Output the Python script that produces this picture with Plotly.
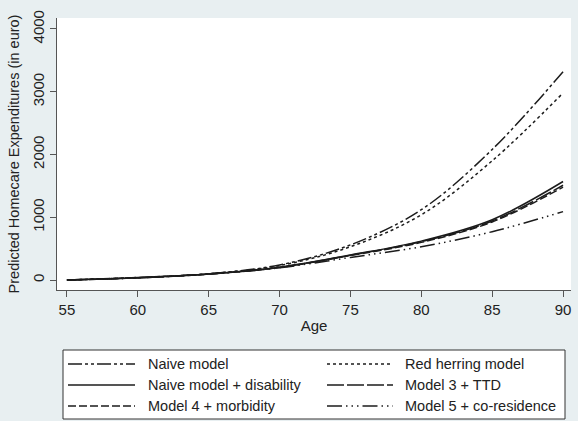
import plotly.graph_objects as go

ages = [55, 60, 65, 70, 75, 80, 85, 90]
naive = [0, 40, 100, 240, 560, 1120, 2080, 3320]
red_herring = [0, 40, 100, 230, 530, 1040, 1900, 2980]
naive_disab = [0, 35, 95, 205, 400, 620, 960, 1570]
model3_ttd = [0, 35, 95, 200, 395, 610, 940, 1510]
model4_morb = [0, 35, 95, 200, 390, 600, 925, 1480]
model5_cores = [0, 35, 95, 195, 360, 530, 770, 1090]

x_ticks = [55, 60, 65, 70, 75, 80, 85, 90]
y_ticks = [0, 1000, 2000, 3000, 4000]

series = [
    ("Naive model", naive, "14px,3px,3px,3px,3px,3px"),
    ("Red herring model", red_herring, "3px,3px"),
    ("Naive model + disability", naive_disab, "solid"),
    ("Model 3 + TTD", model3_ttd, "17px,3px"),
    ("Model 4 + morbidity", model4_morb, "8px,3px"),
    ("Model 5 + co-residence", model5_cores, "15px,4px,1.5px,4px,1.5px,4px,1.5px,4px"),
]

LINE_COLOR = "#1c1c1c"
FONT = "Liberation Sans, Arial, sans-serif"
TXT = "#222"

# plot area in pixels (for placing the hand-built legend box)
W, H = 578, 421
ML, MR, MT, MB = 57, 7, 18, 131
PW, PH = W - ML - MR, H - MT - MB


def px_x(p):
    return (p - ML) / PW


def px_y(p):
    return (H - MB - p) / PH


fig = go.Figure()
for name, vals, dash in series:
    fig.add_trace(go.Scatter(
        x=ages, y=vals, name=name, mode="lines",
        line=dict(color=LINE_COLOR, width=1.5, dash=dash, shape="spline"),
    ))

# legend (Stata-style boxed, two columns)
shapes = [dict(type="rect", xref="paper", yref="paper",
               x0=px_x(63), x1=px_x(565), y0=px_y(419), y1=px_y(350),
               line=dict(color="#333", width=1), fillcolor="white", layer="above")]
annotations = []
col_sample = [(68, 135, 146), (327, 393, 403)]
row_y = [364, 385, 406]
for i, (name, _, dash) in enumerate(series):
    r, c = divmod(i, 2)
    sx0, sx1, tx = col_sample[c]
    yy = px_y(row_y[r])
    shapes.append(dict(type="line", xref="paper", yref="paper",
                       x0=px_x(sx0), x1=px_x(sx1), y0=yy, y1=yy,
                       line=dict(color=LINE_COLOR, width=1.5, dash=dash), layer="above"))
    annotations.append(dict(xref="paper", yref="paper", x=px_x(tx), y=yy,
                            text=name, showarrow=False, xanchor="left", yanchor="middle",
                            font=dict(family=FONT, size=14.5, color=TXT)))

fig.update_layout(
    width=W, height=H,
    margin=dict(l=ML, r=MR, t=MT, b=MB, autoexpand=False),
    paper_bgcolor="#e8eff1",
    plot_bgcolor="white",
    font=dict(family=FONT, size=15, color=TXT),
    showlegend=False,
    shapes=shapes,
    annotations=annotations,
    xaxis=dict(
        range=[54.3, 90.56], tickmode="array", tickvals=x_ticks,
        showgrid=False, zeroline=False, showline=True, linecolor="#555", linewidth=1,
        ticks="outside", ticklen=6, tickcolor="#555",
        tickfont=dict(family=FONT, size=15, color=TXT),
        title=dict(text="Age", standoff=3, font=dict(family=FONT, size=15, color=TXT)),
    ),
    yaxis=dict(
        range=[-159, 4175], tickmode="array", tickvals=y_ticks,
        showgrid=False, zeroline=False, showline=True, linecolor="#555", linewidth=1,
        ticks="outside", ticklen=6, tickcolor="#555", tickangle=-90,
        tickfont=dict(family=FONT, size=15, color=TXT),
        title=dict(text="Predicted Homecare Expenditures (in euro)", standoff=6,
                   font=dict(family=FONT, size=14.5, color=TXT)),
    ),
)
fig.write_html("out.html")
